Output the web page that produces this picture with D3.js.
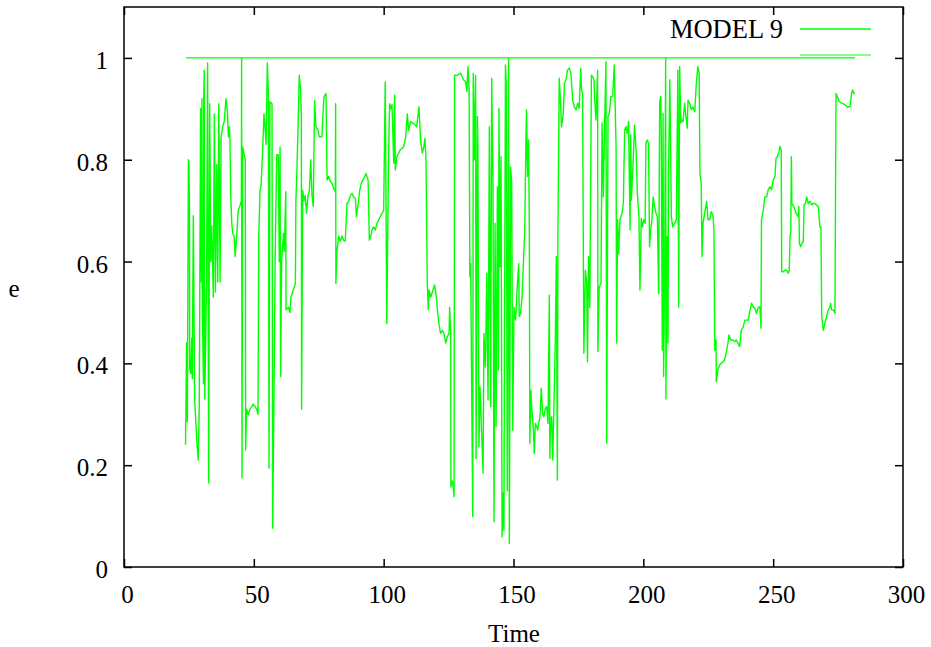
<!DOCTYPE html>
<html>
<head>
<meta charset="utf-8">
<script src="https://cdn.jsdelivr.net/npm/d3@7"></script>
<style>
  body { margin: 0; background: #fff; }
  svg { display: block; }
  text { font-family: "Liberation Serif", "Times New Roman", serif; fill: #000; }
</style>
</head>
<body>
<svg id="chart" width="931" height="647"></svg>
<script>
// Model 9 eccentricity trace: sample times and values
const time = [
  23.7, 24.1, 24.4, 24.8, 25.0, 25.2, 25.3, 25.7, 26.1, 26.3, 26.7, 27.2, 28.0, 28.6, 29.0, 29.5, 29.8, 30.0, 30.2, 30.6,
  30.7, 30.9, 31.1, 31.3, 31.8, 32.2, 32.6, 33.0, 33.4, 33.8, 34.4, 34.8, 35.2, 35.7, 36.1, 36.5, 37.0, 37.4, 38.0, 38.6,
  39.3, 39.8, 40.2, 40.6, 40.8, 41.1, 41.5, 41.9, 42.4, 42.8, 43.4, 44.0, 44.7, 45.2, 45.3, 45.45, 45.7, 46.3, 46.7, 46.85,
  47.2, 47.9, 48.5, 49.2, 49.8, 50.5, 51.1, 51.6, 51.9, 52.4, 52.8, 53.4, 53.9, 54.3, 54.7, 55.2, 55.6, 55.85, 56.2, 57.0,
  57.25, 57.8, 58.2, 58.8, 59.4, 59.8, 60.1, 60.3, 60.7, 61.4, 61.75, 62.3, 62.4, 63.3, 63.9, 64.3, 65.2,
  66.0, 66.2, 66.6, 67.0, 67.5, 68.0, 68.3, 68.4, 68.8, 69.3, 69.8, 70.3, 70.9, 71.4, 71.9, 72.4, 72.9, 73.4, 73.9, 74.7,
  75.2, 76.2, 77.0, 77.8, 78.2, 78.8, 79.5, 80.1, 80.7, 81.4, 81.5, 81.6, 82.0, 82.7, 83.3, 83.9, 84.6, 85.2, 85.9, 86.5,
  87.2, 87.8, 88.4, 89.1, 89.5, 90.1, 90.8, 91.4, 92.0, 92.7, 93.2, 94.0, 94.5, 95.0, 95.5, 96.1, 96.8, 97.4, 98.1, 98.7,
  99.4, 100.0, 100.6, 101.2, 101.9, 102.3, 102.8, 103.2, 103.9, 104.2, 104.5, 105.1, 105.8, 106.4, 107.1, 107.7, 108.3,
  108.5, 109.1, 109.6, 110.4, 111.7, 112.7, 113.6, 114.2, 114.9, 115.5, 115.9, 116.3, 116.8, 117.2, 117.5, 118.1, 119.0, 119.6,
  120.3, 120.7, 121.3, 121.9, 122.6, 123.2, 123.9, 124.5, 125.2, 125.4, 125.8, 125.9, 126.2, 126.6, 127.1, 127.3, 128.4, 129.6,
  130.7, 131.6, 132.0, 132.5, 132.9, 133.2, 133.5, 133.9, 134.3, 134.5, 135.0, 135.4, 135.6, 136.1, 136.3, 136.7, 137.1, 137.6,
  138.3, 138.6, 139.2, 139.7, 140.2, 140.7, 141.2, 141.6, 142.1, 142.5, 142.9, 143.3, 143.8, 144.2, 144.4, 144.8, 145.2, 145.6,
  146.0, 146.3, 146.9, 147.2, 147.6, 148.1, 148.4, 148.9, 149.3, 149.7, 150.2, 150.8, 151.5, 152.0,
  152.2, 152.7, 153.3, 153.8, 154.3, 154.8, 155.0, 155.4, 155.8, 156.1, 156.3, 156.7, 157.1, 157.6, 158.0, 158.4, 158.9, 159.3,
  159.7, 160.2, 160.7, 161.2, 161.7, 162.2, 162.8, 163.3, 163.8, 164.0, 164.3, 164.7, 165.1, 165.4, 166.1, 166.5, 166.9, 167.1,
  167.6, 168.0, 168.5, 169.2, 169.6, 170.2, 170.8, 171.5, 172.1, 172.8, 173.4, 174.1, 174.7, 175.3, 175.9, 176.2, 176.6, 177.1,
  177.7, 178.2, 178.5, 178.9, 179.4, 180.0, 180.5, 181.0, 181.2, 181.8, 182.4, 182.5, 183.0, 183.7, 184.1, 184.6, 185.1, 185.6,
  185.9, 186.4, 186.9, 187.5, 188.2, 188.8, 189.5, 189.7, 190.1, 190.5, 191.0, 191.8, 192.3, 192.8, 193.3, 193.8, 194.3, 194.9, 195.1,
  195.4, 196.0, 196.6, 197.2, 197.7, 198.3, 198.7, 199.2, 199.7, 200.2, 200.7, 201.0, 201.5, 202.0, 202.4, 202.8, 203.3, 203.8,
  204.3, 204.9, 205.4, 205.9, 206.3, 206.7, 206.9, 207.3, 207.6, 207.8, 208.2, 208.6, 208.7, 209.1, 209.5, 209.7, 210.2, 210.8,
  211.3, 212.0, 212.7, 213.3, 213.6, 214.0, 214.4, 214.9, 215.3, 215.9, 216.4, 216.9, 217.2, 217.8, 218.5, 219.1, 219.8, 220.4,
  221.0, 221.5, 221.8, 222.3, 222.6, 223.0, 223.6, 224.4, 224.9, 225.5, 226.2, 226.8, 227.2, 227.5, 228.0, 228.1, 228.7, 229.4,
  230.0, 230.7, 231.3, 232.0, 232.6, 233.0, 233.6, 234.5, 235.2, 235.8, 236.4, 237.1, 237.7,
  238.5, 239.1, 240.4, 241.1, 241.7, 242.3, 243.0, 243.6, 244.3, 244.9, 245.3, 245.5, 246.2, 246.8, 247.5, 248.1, 248.8, 249.4,
  250.0, 250.7, 251.1, 251.6, 252.1, 252.6, 253.1, 253.3, 253.9, 254.5, 255.2, 255.8, 256.2, 256.5, 256.8, 257.0, 257.2, 258.0,
  258.8, 259.7, 259.9, 260.1, 260.6, 261.1, 261.6, 261.9, 262.4, 262.9, 263.5, 264.2, 264.8, 265.4, 266.1, 266.7, 267.4, 268.0,
  268.4, 268.7, 269.3, 269.9, 270.6, 271.2, 271.9, 272.1, 272.5, 273.2, 273.8, 274.2, 274.7, 275.5, 276.4, 277.6, 278.5, 279.6,
  280.2, 280.6, 281.1, 281.5
];
const eValues = [
  0.24, 0.44, 0.285, 0.80, 0.79, 0.71, 0.39, 0.38, 0.45, 0.37, 0.69, 0.33, 0.25, 0.21, 0.32, 0.90, 0.56, 0.92, 0.50, 0.36,
  0.92, 0.976, 0.33, 0.39, 0.56, 0.99, 0.165, 0.91, 0.60, 0.67, 0.53, 0.89, 0.54, 0.79, 0.56, 0.91, 0.56, 0.845, 0.865, 0.875,
  0.92, 0.895, 0.845, 0.865, 0.84, 0.73, 0.675, 0.655, 0.65, 0.61, 0.65, 0.70, 0.71, 0.72, 1.0, 0.175, 0.825, 0.81, 0.80, 0.23,
  0.31, 0.30, 0.31, 0.315, 0.32, 0.315, 0.31, 0.30, 0.65, 0.74, 0.75, 0.82, 0.89, 0.865, 0.83, 0.99, 0.93, 0.194, 0.914, 0.91,
  0.076, 0.355, 0.60, 0.81, 0.81, 0.60, 0.825, 0.374, 0.60, 0.655, 0.62, 0.737, 0.505, 0.51, 0.50, 0.53, 0.544,
  0.557, 0.72, 0.78, 0.86, 0.966, 0.937, 0.885, 0.31, 0.74, 0.72, 0.73, 0.695, 0.73, 0.74, 0.80, 0.73, 0.708, 0.917, 0.865, 0.858,
  0.845, 0.845, 0.924, 0.93, 0.76, 0.767, 0.757, 0.754, 0.744, 0.737, 0.91, 0.557, 0.62, 0.65, 0.64, 0.65, 0.642, 0.64, 0.714, 0.718,
  0.73, 0.734, 0.727, 0.724, 0.688, 0.71, 0.74, 0.754, 0.76, 0.767, 0.773, 0.76, 0.642, 0.649, 0.662, 0.668, 0.662, 0.675, 0.682, 0.688,
  0.695, 0.70, 0.953, 0.478, 0.81, 0.91, 0.90, 0.908, 0.793, 0.927, 0.78, 0.806, 0.813, 0.82, 0.822, 0.826, 0.84,
  0.845, 0.89, 0.858, 0.875, 0.87, 0.865, 0.904, 0.839, 0.813, 0.826, 0.842, 0.80, 0.557, 0.505, 0.544, 0.53, 0.544, 0.554,
  0.53, 0.505, 0.478, 0.459, 0.465, 0.459, 0.44, 0.452, 0.459, 0.51, 0.465, 0.157, 0.17, 0.164, 0.138, 0.966, 0.966, 0.97,
  0.957, 0.953, 0.934, 0.983, 0.937, 0.57, 0.596, 0.347, 0.099, 0.97, 0.80, 0.966, 0.213, 0.885, 0.82, 0.236, 0.354, 0.282,
  0.184, 0.459, 0.393, 0.577, 0.328, 0.865, 0.315, 0.96, 0.754, 0.089, 0.675, 0.276, 0.747, 0.387, 0.901, 0.59, 0.806, 0.059,
  0.145, 0.072, 0.986, 0.95, 0.15, 1.0, 0.046, 0.786, 0.754, 0.269, 0.51, 0.485, 0.557, 0.596,
  0.492, 0.498, 0.53, 0.596, 0.655, 0.839, 0.898, 0.767, 0.839, 0.668, 0.243, 0.347, 0.308, 0.276, 0.223, 0.282, 0.276, 0.269,
  0.282, 0.295, 0.351, 0.302, 0.295, 0.31, 0.315, 0.282, 0.534, 0.213, 0.289, 0.295, 0.21, 0.276, 0.446, 0.61, 0.171, 0.649,
  0.96, 0.924, 0.865, 0.891, 0.95, 0.957, 0.976, 0.98, 0.97, 0.917, 0.904, 0.898, 0.911, 0.901, 0.98, 0.937, 0.93, 0.42,
  0.583, 0.557, 0.403, 0.61, 0.51, 0.966, 0.963, 0.957, 0.924, 0.878, 0.976, 0.423, 0.55, 0.557, 0.872, 0.727, 0.872, 0.993,
  0.243, 0.885, 0.891, 0.924, 0.924, 0.986, 0.826, 0.44, 0.682, 0.616, 0.682, 0.695, 0.714, 0.858, 0.865, 0.852, 0.875, 0.662, 0.849,
  0.721, 0.786, 0.868, 0.819, 0.734, 0.688, 0.544, 0.685, 0.668, 0.682, 0.675, 0.832, 0.839, 0.832, 0.629, 0.662, 0.682, 0.727,
  0.708, 0.695, 0.688, 0.537, 0.914, 0.924, 0.858, 0.426, 0.891, 0.374, 0.557, 1.0, 0.33, 0.649, 0.44, 0.767, 0.957, 0.688,
  0.668, 0.675, 0.682, 0.976, 0.51, 0.983, 0.872, 0.878, 0.875, 0.911, 0.885, 0.862, 0.917, 0.911, 0.898, 0.904, 0.894, 0.95,
  0.983, 0.97, 0.773, 0.754, 0.61, 0.675, 0.695, 0.718, 0.682, 0.682, 0.698, 0.691, 0.662, 0.426, 0.446, 0.364, 0.387, 0.397,
  0.40, 0.403, 0.407, 0.423, 0.44, 0.456, 0.446, 0.446, 0.443, 0.446, 0.44, 0.433, 0.465,
  0.472, 0.485, 0.485, 0.505, 0.518, 0.511, 0.508, 0.498, 0.511, 0.511, 0.469, 0.682, 0.701, 0.727, 0.727, 0.741, 0.747, 0.741,
  0.76, 0.767, 0.803, 0.806, 0.813, 0.826, 0.819, 0.58, 0.58, 0.583, 0.583, 0.577, 0.583, 0.649, 0.662, 0.806, 0.714, 0.708,
  0.695, 0.688, 0.708, 0.636, 0.629, 0.636, 0.639, 0.711, 0.714, 0.727, 0.714, 0.718, 0.711, 0.714, 0.714, 0.711, 0.708, 0.668,
  0.668, 0.492, 0.465, 0.478, 0.492, 0.505, 0.511, 0.518, 0.505, 0.505, 0.498, 0.93, 0.924, 0.914, 0.911, 0.908, 0.904, 0.904,
  0.93, 0.937, 0.93, 0.93
];

// Reference level e = 1 over the same time span
const refTime = [23.9, 281.5];
const refValues = [1, 1];

const seriesNames = ["MODEL 9", ""];
const xTicks = [0, 50, 100, 150, 200, 250, 300];
const yTicks = [0, 0.2, 0.4, 0.6, 0.8, 1];
const xDomain = [0, 300];
const yDomain = [0, 1.1];

const svg = d3.select("#chart");
const margin = { left: 124, right: 28, top: 7, bottom: 80 };
const W = 931, H = 647;
const lineColor = "#00ff00";
const legendSampleColor = "#5cff5c";

const x = d3.scaleLinear().domain(xDomain).range([margin.left, W - margin.right]);
const y = d3.scaleLinear().domain(yDomain).range([H - margin.bottom, margin.top]);

const fmt = d => String(d);

// Axes: inward ticks on all four sides, labels on bottom and left only
const gx = svg.append("g").attr("transform", `translate(0,${y(0)})`)
  .call(d3.axisBottom(x).tickValues(xTicks).tickSize(-8).tickPadding(18).tickFormat(fmt));
gx.selectAll("text").attr("font-size", 25).attr("dx", 3)
  .style("font-family", '"Liberation Serif", "Times New Roman", serif');

const gy = svg.append("g").attr("transform", `translate(${x(0)},0)`)
  .call(d3.axisLeft(y).tickValues(yTicks).tickSize(-8).tickPadding(16).tickFormat(fmt));
gy.selectAll("text").attr("font-size", 25).attr("dy", "0.42em")
  .style("font-family", '"Liberation Serif", "Times New Roman", serif');

svg.append("g").attr("transform", `translate(0,${y(yDomain[1])})`)
  .call(d3.axisTop(x).tickValues(xTicks).tickSize(-8).tickFormat(""));
svg.append("g").attr("transform", `translate(${x(xDomain[1])},0)`)
  .call(d3.axisRight(y).tickValues(yTicks).tickSize(-8).tickFormat(""));

svg.selectAll(".domain").remove();
svg.selectAll(".tick line").attr("stroke", "#000").attr("stroke-width", 1.5);

// Plot frame
svg.append("rect")
  .attr("x", x(xDomain[0])).attr("y", y(yDomain[1]))
  .attr("width", x(xDomain[1]) - x(xDomain[0]))
  .attr("height", y(yDomain[0]) - y(yDomain[1]))
  .attr("fill", "none").attr("stroke", "#000").attr("stroke-width", 1.5);

// Data lines
const line = d3.line().x(d => x(d[0])).y(d => y(d[1]));
svg.append("path")
  .datum(time.map((t, i) => [t, eValues[i]]))
  .attr("d", line).attr("fill", "none")
  .attr("stroke", lineColor).attr("stroke-width", 1.4).attr("stroke-linejoin", "round");

svg.append("path")
  .datum(refTime.map((t, i) => [t, refValues[i]]))
  .attr("d", line).attr("fill", "none")
  .attr("stroke", lineColor).attr("stroke-width", 1.4);

// Legend
const legend = svg.append("g");
legend.append("text").attr("x", 783).attr("y", 38).attr("text-anchor", "end")
  .attr("font-size", 26.5).text(seriesNames[0]);
legend.append("line").attr("x1", 800).attr("x2", 871).attr("y1", 29).attr("y2", 29)
  .attr("stroke", lineColor).attr("stroke-width", 1.4);
legend.append("text").attr("x", 783).attr("y", 64).attr("text-anchor", "end")
  .attr("font-size", 26.5).text(seriesNames[1]);
legend.append("line").attr("x1", 800).attr("x2", 871).attr("y1", 55).attr("y2", 55)
  .attr("stroke", legendSampleColor).attr("stroke-width", 1.4);

// Axis titles
svg.append("text").attr("x", 514).attr("y", 642).attr("text-anchor", "middle")
  .attr("font-size", 25).text("Time");
svg.append("text").attr("x", 14).attr("y", 297).attr("text-anchor", "middle")
  .attr("font-size", 25).text("e");
</script>
</body>
</html>
